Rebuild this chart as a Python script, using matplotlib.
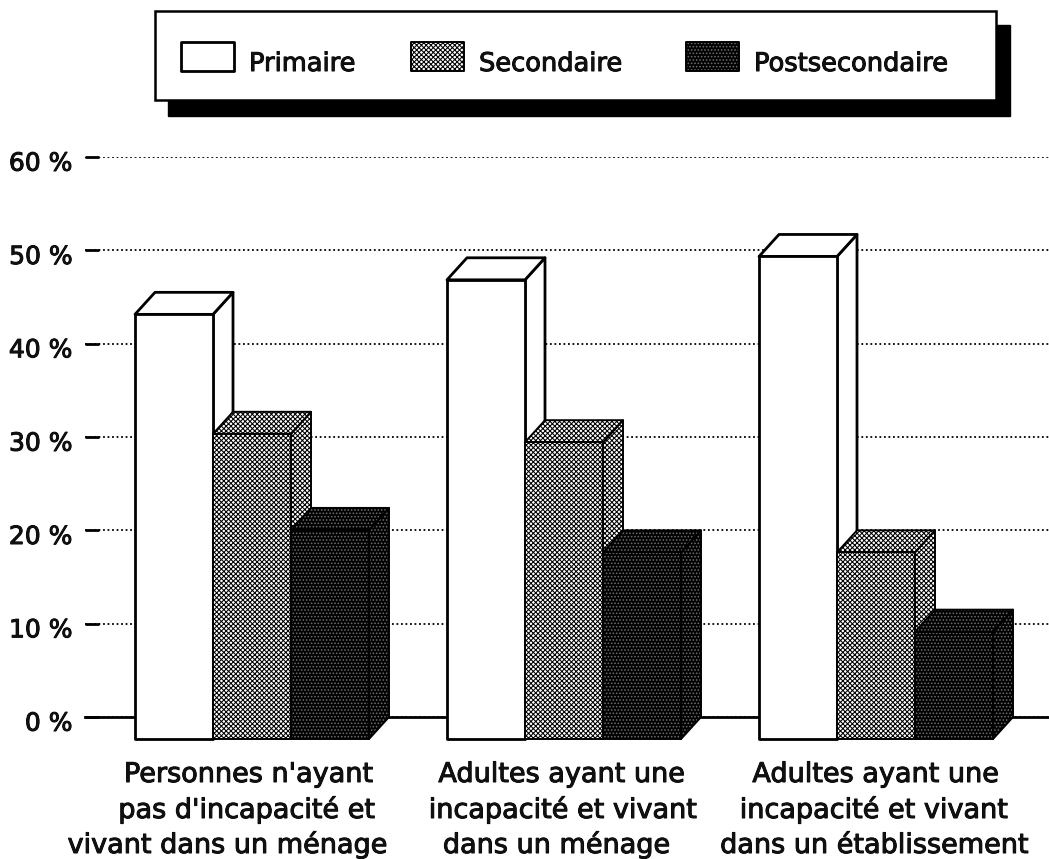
import numpy as np
import matplotlib
matplotlib.use("Agg")
import matplotlib.pyplot as plt
import matplotlib.patheffects as pe
from matplotlib.patches import Polygon, Rectangle
from matplotlib.transforms import ScaledTranslation

# valeurs (face arriere des barres)
groupes = [["Personnes n'ayant", "pas d'incapacité et", "vivant dans un ménage"],
           ["Adultes ayant une", "incapacité et vivant", "dans un ménage"],
           ["Adultes ayant une", "incapacité et vivant", "dans un établissement"]]
niveaux = ["Primaire", "Secondaire", "Postsecondaire"]
primaire = [45.5, 49.2, 51.7]
secondaire = [32.7, 31.8, 20.0]
postsecondaire = [22.4, 20.0, 11.5]
yticks = [0, 10, 20, 30, 40, 50, 60]
ylabels = ["0 %", "10 %", "20 %", "30 %", "40 %", "50 %", "60 %"]

W, H = 1049, 859
plt.rcParams['font.family'] = ['DejaVu Sans']
plt.rcParams['hatch.linewidth'] = 0.75
gras = [pe.withStroke(linewidth=0.7, foreground='black')]

fig = plt.figure(figsize=(W / 100, H / 100), dpi=100)
ax = fig.add_axes([85 / W, (H - 717) / H, (W - 85) / W, 560 / H])
ax.set_xlim((85 - 252) / 312, (W - 252) / 312)
ax.set_ylim(0, 60)

largeur = 78 / 312
prof_x = 20 / 312
prof_y = 22 / 9.32


def remplir(pts, style, z, target=ax):
    # fond + trame + contour
    if style == 0:
        target.add_patch(Polygon(pts, closed=True, facecolor='white', edgecolor='none', zorder=z, clip_on=False))
    elif style == 1:
        target.add_patch(Polygon(pts, closed=True, facecolor='white', edgecolor='black', hatch='xxxxxxx', lw=0, zorder=z, clip_on=False))
    else:
        target.add_patch(Polygon(pts, closed=True, facecolor='black', edgecolor='#6e6e6e', hatch='.....', lw=0, zorder=z, clip_on=False))
    lw = 2.0 if style == 0 else 1.4
    target.add_patch(Polygon(pts, closed=True, fill=False, edgecolor='black', lw=lw, joinstyle='round', zorder=z + 0.01, clip_on=False))


z = 3
for j, valeurs in enumerate([primaire, secondaire, postsecondaire]):
    for i, v in enumerate(valeurs):
        x0 = i + (j - 1.5) * largeur
        x1 = x0 + largeur
        haut = v - prof_y
        bas = -prof_y
        # cote, dessus, face
        remplir([(x1, bas), (x1 + prof_x, 0), (x1 + prof_x, v), (x1, haut)], j, z)
        remplir([(x0, haut), (x0 + prof_x, v), (x1 + prof_x, v), (x1, haut)], j, z + 0.1)
        remplir([(x0, bas), (x1, bas), (x1, haut), (x0, haut)], j, z + 0.2)
        z += 1

ax.set_yticks(yticks)
ax.set_yticklabels(ylabels, fontsize=18, color='#111111', path_effects=gras)
ax.tick_params(axis='y', direction='in', length=10, width=2, pad=9, left=True)
for lab in ax.get_yticklabels():
    lab.set_transform(lab.get_transform() + ScaledTranslation(0, -3 / 72, fig.dpi_scale_trans))
ax.set_xticks([])
ax.grid(axis='y', color='black', linestyle=(0, (1, 1.5)), linewidth=1.3)
ax.set_axisbelow(True)
for s in ['top', 'right', 'left']:
    ax.spines[s].set_visible(False)
ax.spines['bottom'].set_linewidth(2)

# legende et libelles dessines a la main, comme l'original
bg = fig.add_axes([0, 0, 1, 1], zorder=5)
bg.set_xlim(0, W)
bg.set_ylim(H, 0)
bg.axis('off')
bg.patch.set_alpha(0)
bg.add_patch(Rectangle((168, 25), 842, 91, facecolor='black', edgecolor='black', zorder=1))
bg.add_patch(Rectangle((155, 11), 841, 89, facecolor='white', edgecolor='black', lw=1.8, zorder=2))
cles_x = [181, 411, 686]
texte_x = [249, 479, 754]
for j, nom in enumerate(niveaux):
    x = cles_x[j]
    remplir([(x, 42), (x + 53, 42), (x + 53, 71), (x, 71)], j, 3, target=bg)
    bg.text(texte_x[j], 71, nom, fontsize=18.5, va='baseline', ha='left', color='#111111', path_effects=gras)

# les lignes ne sont pas tout a fait centrees dans l'original
lignes_x = [[249, 247, 228], [562, 563, 557], [876, 874, 875]]
lignes_y = [782, 818, 853]
for lignes, xs in zip(groupes, lignes_x):
    for txt, x, y in zip(lignes, xs, lignes_y):
        bg.text(x, y, txt, fontsize=19.5, va='baseline', ha='center', color='#111111', path_effects=gras)

fig.savefig("out.png", dpi=100)
